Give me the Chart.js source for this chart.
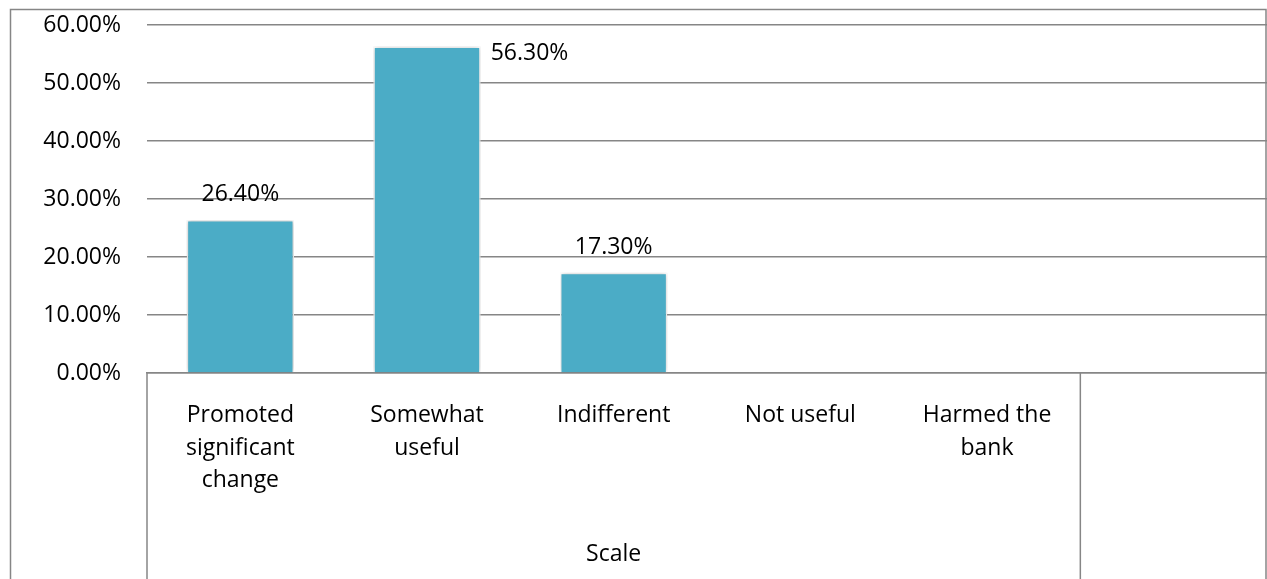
<!DOCTYPE html>
<html><head><meta charset="utf-8">
<script src="https://cdn.jsdelivr.net/npm/chart.js@4.4.1/dist/chart.umd.min.js"></script>
<style>html,body{margin:0;padding:0;background:#fff}#wrap{width:1267px;height:579px}</style>
</head><body><div id="wrap"><canvas id="c" width="1267" height="579"></canvas></div>
<script>
const categories = [["Promoted","significant","change"],["Somewhat","useful"],"Indifferent","Not useful",["Harmed the","bank"],""];
const values = [26.4, 56.3, 17.3, null, null, null];
const valueLabels = ["26.40%", "56.30%", "17.30%", null, null, null];
const yTicks = [0, 10, 20, 30, 40, 50, 60];
const groupTitle = "Scale";
const groupSpan = 5; // number of categories under the "Scale" group

const FONT = "'Open Sans', 'DejaVu Sans', sans-serif";
const FSIZE = 23;
const GRAY = '#868686';

const deco = {
  id: 'deco',
  beforeDraw(chart) {
    const ctx = chart.ctx;
    ctx.save();
    ctx.fillStyle = '#fff';
    ctx.fillRect(0, 0, chart.width, chart.height);
    ctx.restore();
  },
  beforeDatasetsDraw(chart) {
    const ctx = chart.ctx;
    ctx.save();
    ctx.shadowColor = 'rgba(0,0,0,0.28)';
    ctx.shadowBlur = 5;
    ctx.shadowOffsetX = 0;
    ctx.shadowOffsetY = 0;
  },
  afterDatasetsDraw(chart) {
    const ctx = chart.ctx;
    ctx.restore();
    const meta = chart.getDatasetMeta(0);
    const area = chart.chartArea;
    ctx.save();
    ctx.font = FSIZE + "px " + FONT;
    ctx.fillStyle = '#000';
    ctx.textBaseline = 'middle';
    meta.data.forEach((bar, i) => {
      const lbl = valueLabels[i];
      if (lbl == null) return;
      const above = bar.y - 25;
      if (above - 14 < area.top) {
        ctx.textAlign = 'left';
        ctx.fillText(lbl, bar.x + bar.width / 2 + 10, bar.y + 7);
      } else {
        ctx.textAlign = 'center';
        ctx.fillText(lbl, bar.x, above);
      }
    });
    ctx.restore();
  },
  afterDraw(chart) {
    const ctx = chart.ctx;
    const xs = chart.scales.x;
    const area = chart.chartArea;
    const half = (xs.getPixelForValue(1) - xs.getPixelForValue(0)) / 2;
    const groupRight = xs.getPixelForValue(groupSpan - 1) + half;
    ctx.save();
    ctx.strokeStyle = GRAY;
    ctx.lineWidth = 1.5;
    ctx.beginPath();
    ctx.moveTo(area.left, xs.top); ctx.lineTo(area.left, chart.height);
    ctx.moveTo(groupRight, xs.top); ctx.lineTo(groupRight, chart.height);
    ctx.stroke();
    // outer chart border
    ctx.beginPath();
    ctx.moveTo(10.5, chart.height);
    ctx.lineTo(10.5, 9.5);
    ctx.lineTo(1266, 9.5);
    ctx.lineTo(1266, chart.height);
    ctx.stroke();
    // group title
    ctx.font = FSIZE + "px " + FONT;
    ctx.fillStyle = '#000';
    ctx.textAlign = 'center';
    ctx.textBaseline = 'middle';
    ctx.fillText(groupTitle, (area.left + groupRight) / 2, 554);
    ctx.restore();
  }
};

new Chart(document.getElementById('c'), {
  type: 'bar',
  data: {
    labels: categories,
    datasets: [{
      data: values,
      backgroundColor: '#4BACC6',
      borderColor: '#ffffff',
      borderWidth: 1.5,
      categoryPercentage: 1,
      barPercentage: 0.575
    }]
  },
  options: {
    responsive: false,
    animation: false,
    devicePixelRatio: 1,
    layout: { padding: { left: 0, right: 0, top: 25, bottom: 0 } },
    plugins: { legend: { display: false }, tooltip: { enabled: false } },
    scales: {
      x: {
        grid: { display: false, drawTicks: false },
        border: { display: true, color: GRAY, width: 1.5 },
        ticks: {
          color: '#000',
          font: { family: FONT, size: FSIZE, lineHeight: 1.42 },
          padding: 26,
          maxRotation: 0,
          autoSkip: false
        },
        afterFit(scale) {
          scale.height = 206;
          scale.paddingTop = 0; scale.paddingBottom = 0;
          scale.paddingLeft = 0; scale.paddingRight = 0;
        }
      },
      y: {
        min: 0, max: 60,
        afterBuildTicks(scale) { scale.ticks = yTicks.map(v => ({ value: v })); },
        grid: { color: GRAY, lineWidth: 1.5, drawTicks: false },
        border: { display: false },
        ticks: {
          color: '#000',
          font: { family: FONT, size: FSIZE },
          padding: 26,
          callback: v => Number(v).toFixed(2) + '%'
        },
        afterFit(scale) {
          scale.width = 147;
          scale.paddingTop = 0; scale.paddingBottom = 0;
        }
      }
    }
  },
  plugins: [deco]
});
</script>
</body></html>
